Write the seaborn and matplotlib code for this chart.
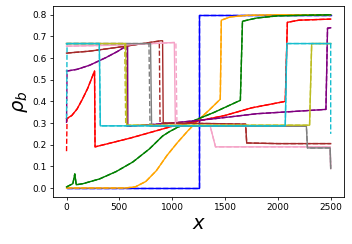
import numpy as np
import pandas as pd
import matplotlib
matplotlib.use("Agg")
import matplotlib.pyplot as plt
import seaborn as sns

# solid curves (model)
blue_x = [0, 1250, 1250, 2500]
blue_y = [0.0, 0.0, 0.8, 0.8]

orange_x = [0, 550, 650, 750, 850, 950, 1050, 1150, 1250, 1350, 1455, 1465, 1550, 1700, 2000, 2500]
orange_y = [0.0, 0.0, 0.005, 0.03, 0.08, 0.15, 0.21, 0.265, 0.315, 0.36, 0.41, 0.775, 0.79, 0.797, 0.8, 0.8]

green_x = [0, 60, 78, 92, 156, 313, 470, 627, 783, 909, 973, 1050, 1200, 1400, 1645, 1665, 1800, 2000, 2500]
green_y = [0.005, 0.02, 0.065, 0.015, 0.02, 0.042, 0.076, 0.12, 0.18, 0.24, 0.26, 0.28, 0.31, 0.35, 0.405, 0.77, 0.785, 0.795, 0.8]

red_x = [0, 50, 100, 150, 200, 265, 270, 600, 1000, 1500, 1750, 2070, 2090, 2200, 2500]
red_y = [0.32, 0.335, 0.365, 0.41, 0.46, 0.54, 0.19, 0.23, 0.285, 0.335, 0.37, 0.40, 0.765, 0.775, 0.78]

purple_x = [0, 100, 219, 376, 480, 564, 578, 580, 1000, 1400, 1800, 2200, 2455, 2470, 2500]
purple_y = [0.54, 0.548, 0.567, 0.603, 0.63, 0.655, 0.66, 0.285, 0.30, 0.32, 0.343, 0.355, 0.363, 0.738, 0.74]

brown_x = [0, 219, 564, 893, 909, 915, 1300, 1695, 1705, 2000, 2500]
brown_y = [0.623, 0.632, 0.655, 0.68, 0.68, 0.30, 0.298, 0.295, 0.208, 0.205, 0.205]

pink_x = [0, 500, 1020, 1030, 1360, 1410, 2000, 2495, 2500]
pink_y = [0.655, 0.66, 0.672, 0.29, 0.285, 0.19, 0.19, 0.19, 0.09]

gray_x = [0, 795, 805, 2270, 2280, 2495, 2500]
gray_y = [0.667, 0.667, 0.285, 0.285, 0.185, 0.185, 0.09]

olive_x = [0, 560, 570, 2300, 2320, 2500]
olive_y = [0.667, 0.667, 0.29, 0.29, 0.667, 0.667]

cyan_x = [0, 310, 320, 2070, 2085, 2500]
cyan_y = [0.667, 0.667, 0.287, 0.287, 0.667, 0.667]

# dashed curves (data) where they differ from the solid ones
red_dx = [0, 5, 50, 100, 150, 200, 265, 270, 600, 1000, 1500, 1750, 2070, 2090, 2200, 2500]
red_dy = [0.17, 0.32, 0.335, 0.365, 0.41, 0.46, 0.54, 0.19, 0.23, 0.285, 0.335, 0.37, 0.40, 0.765, 0.775, 0.78]

purple_dx = [0, 5, 100, 219, 376, 480, 564, 570, 572, 1000, 1400, 1800, 2200, 2455, 2470, 2500]
purple_dy = [0.30, 0.54, 0.548, 0.567, 0.603, 0.63, 0.655, 0.66, 0.285, 0.30, 0.32, 0.343, 0.355, 0.363, 0.738, 0.74]

brown_dx = [0, 219, 564, 870, 878, 885, 1300, 1695, 1705, 2000, 2500]
brown_dy = [0.623, 0.632, 0.655, 0.678, 0.678, 0.30, 0.298, 0.295, 0.208, 0.205, 0.205]

pink_dx = [0, 500, 1035, 1045, 1360, 1410, 2000, 2495, 2500]
pink_dy = [0.655, 0.66, 0.672, 0.29, 0.285, 0.19, 0.19, 0.19, 0.09]

gray_dx = [0, 780, 790, 2270, 2280, 2495, 2500]
gray_dy = [0.667, 0.667, 0.285, 0.285, 0.185, 0.185, 0.09]

olive_dx = [0, 550, 560, 2300, 2320, 2500]
olive_dy = [0.667, 0.667, 0.29, 0.29, 0.667, 0.667]

cyan_dx = [0, 5, 310, 320, 2070, 2085, 2500, 2500]
cyan_dy = [0.32, 0.667, 0.667, 0.287, 0.287, 0.667, 0.667, 0.25]

series = [
    ("blue", blue_x, blue_y, blue_x, blue_y),
    ("orange", orange_x, orange_y, orange_x, orange_y),
    ("green", green_x, green_y, green_x, green_y),
    ("red", red_x, red_y, red_dx, red_dy),
    ("purple", purple_x, purple_y, purple_dx, purple_dy),
    ("brown", brown_x, brown_y, brown_dx, brown_dy),
    ("#f5a3c7", pink_x, pink_y, pink_dx, pink_dy),
    ("tab:gray", gray_x, gray_y, gray_dx, gray_dy),
    ("tab:olive", olive_x, olive_y, olive_dx, olive_dy),
    ("tab:cyan", cyan_x, cyan_y, cyan_dx, cyan_dy),
]

fig = plt.figure(figsize=(3.52, 2.44), dpi=100)
ax = fig.add_axes([0.1515, 0.194, 0.8255, 0.781])

for color, sx, sy, dx, dy in series:
    sns.lineplot(x=sx, y=sy, color=color, lw=1.0, estimator=None, sort=False, ax=ax)
    sns.lineplot(x=dx, y=dy, color=color, lw=1.0, ls="--", estimator=None, sort=False, ax=ax)

ax.set_xticks([0, 500, 1000, 1500, 2000, 2500])
ax.set_yticks([0.0, 0.1, 0.2, 0.3, 0.4, 0.5, 0.6, 0.7, 0.8])
ax.tick_params(labelsize=6.5, length=2.4, width=0.55, pad=2.3)
for s in ax.spines.values():
    s.set_linewidth(0.6)
ax.set_xlabel(r"$x$", fontsize=14, labelpad=1)
ax.set_ylabel(r"$\rho_b$", fontsize=14, labelpad=2)

fig.savefig("out.png", dpi=100)
